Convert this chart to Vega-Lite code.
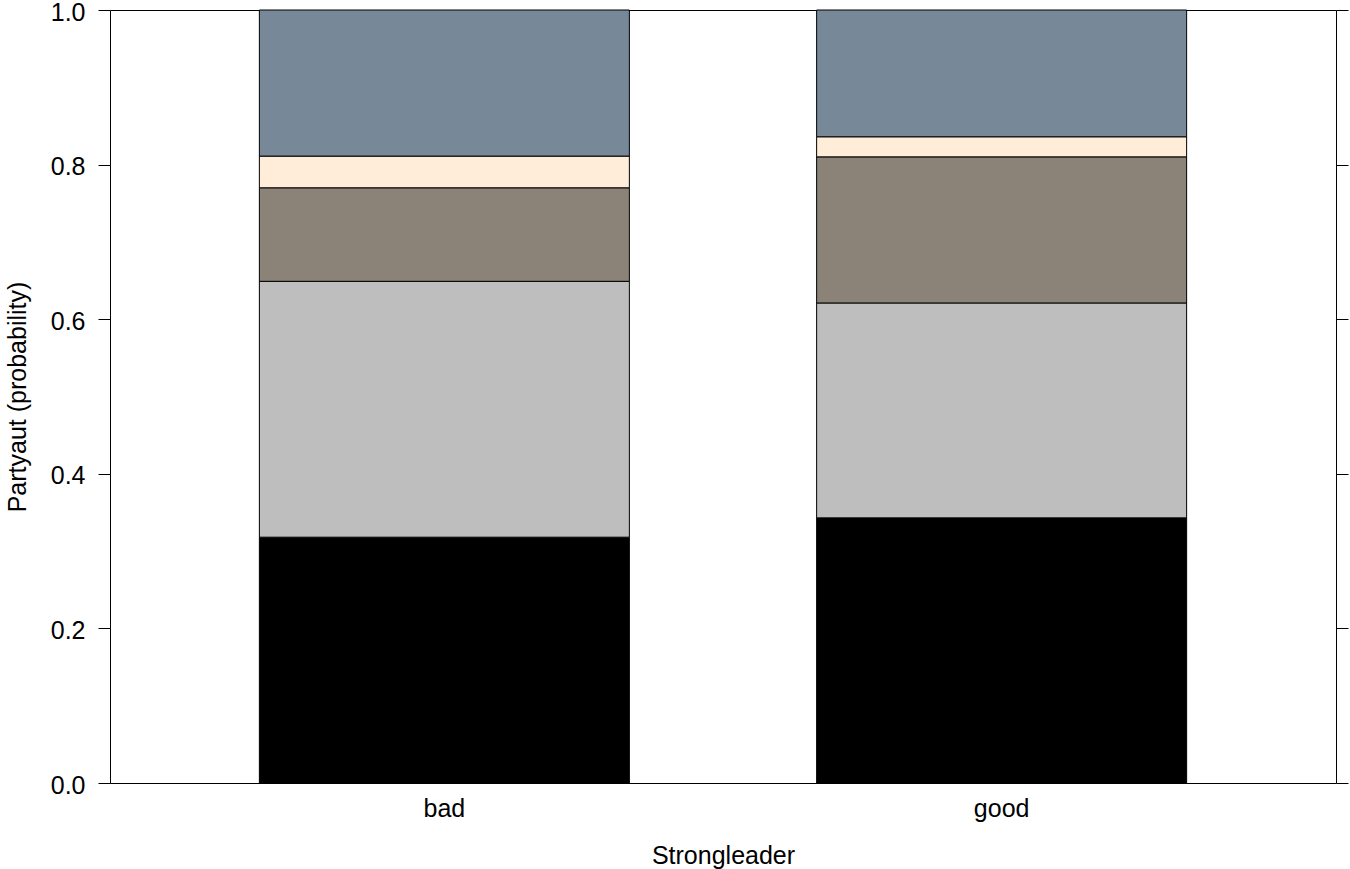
{
  "$schema": "https://vega.github.io/schema/vega-lite/v6.json",
  "width": 1226,
  "height": 773,
  "autosize": "none",
  "padding": {"left": 110, "top": 10, "right": 14, "bottom": 86},
  "background": "white",
  "config": {
    "view": {"stroke": "black", "strokeWidth": 1},
    "font": "Liberation Sans",
    "axis": {
      "labelFont": "Liberation Sans",
      "titleFont": "Liberation Sans",
      "labelFontSize": 25,
      "titleFontSize": 25,
      "titleFontWeight": "normal",
      "labelColor": "#000000",
      "titleColor": "#000000",
      "tickColor": "#000000",
      "domainColor": "#000000",
      "grid": false
    }
  },
  "data": {
    "values": [
      {"Strongleader": "bad", "level": "1", "p": 0.318},
      {"Strongleader": "bad", "level": "2", "p": 0.331},
      {"Strongleader": "bad", "level": "3", "p": 0.121},
      {"Strongleader": "bad", "level": "4", "p": 0.041},
      {"Strongleader": "bad", "level": "5", "p": 0.189},
      {"Strongleader": "good", "level": "1", "p": 0.343},
      {"Strongleader": "good", "level": "2", "p": 0.278},
      {"Strongleader": "good", "level": "3", "p": 0.189},
      {"Strongleader": "good", "level": "4", "p": 0.026},
      {"Strongleader": "good", "level": "5", "p": 0.164}
    ]
  },
  "layer": [
    {
      "mark": {"type": "bar", "stroke": "black", "strokeWidth": 1, "size": 370},
      "encoding": {
        "x": {
          "field": "Strongleader",
          "type": "nominal",
          "sort": ["bad", "good"],
          "scale": {"paddingInner": 0, "paddingOuter": 0.1},
          "axis": {
            "title": "Strongleader",
            "labelAngle": 0,
            "ticks": false,
            "domain": false,
            "labelPadding": 13,
            "titlePadding": 22
          }
        },
        "y": {
          "field": "p",
          "type": "quantitative",
          "stack": "zero",
          "scale": {"domain": [0, 1], "nice": false},
          "axis": {
            "title": "Partyaut (probability)",
            "values": [0, 0.2, 0.4, 0.6, 0.8, 1.0],
            "format": ".1f",
            "tickSize": 12,
            "labelPadding": 13,
            "labelOffset": 2,
            "titlePadding": 20,
            "domain": false
          }
        },
        "color": {
          "field": "level",
          "type": "nominal",
          "scale": {
            "domain": ["1", "2", "3", "4", "5"],
            "range": ["#000000", "#BEBEBE", "#8B8378", "#FFEDD9", "#778899"]
          },
          "legend": null
        },
        "order": {"field": "level", "type": "ordinal", "sort": "ascending"}
      }
    },
    {
      "mark": {"type": "bar", "opacity": 0, "size": 370},
      "encoding": {
        "x": {"field": "Strongleader", "type": "nominal", "sort": ["bad", "good"]},
        "y": {
          "field": "p",
          "type": "quantitative",
          "stack": "zero",
          "axis": {
            "orient": "right",
            "title": null,
            "labels": false,
            "values": [0, 0.2, 0.4, 0.6, 0.8, 1.0],
            "tickSize": 12,
            "domain": false
          }
        }
      }
    }
  ],
  "resolve": {"axis": {"y": "independent"}}
}
